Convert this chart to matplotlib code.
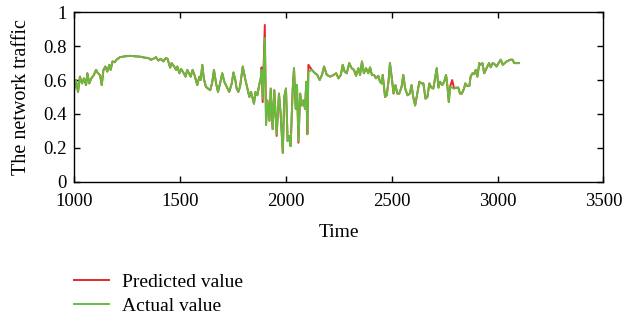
import matplotlib
matplotlib.use('Agg')
import matplotlib.pyplot as plt

# values
time = [1000, 1009, 1019, 1028, 1038, 1047, 1057, 1063, 1072, 1082, 1094, 1104, 1113, 1123,
        1131, 1139, 1148, 1157, 1167, 1173, 1182, 1192, 1201, 1217, 1241, 1265, 1288, 1312,
        1335, 1351, 1362, 1375, 1387, 1398, 1409, 1422, 1434, 1442, 1454, 1461, 1473, 1482,
        1488, 1498, 1506, 1516, 1527, 1535, 1545, 1551, 1560, 1569, 1582, 1592, 1598, 1606,
        1613, 1623, 1633, 1643, 1652, 1661, 1671, 1680, 1690, 1700, 1710, 1721, 1733, 1745,
        1753, 1762, 1768, 1776, 1784, 1797, 1808, 1819, 1828, 1836, 1844, 1850, 1857, 1866,
        1876, 1882, 1886, 1891, 1901, 1907, 1913, 1923, 1929, 1938, 1946, 1957, 1968, 1976,
        1986, 1993, 2001, 2009, 2017, 2023, 2033, 2039, 2047, 2053, 2060, 2068, 2076, 2083,
        2091, 2097, 2102, 2107, 2123, 2138, 2149, 2160, 2171, 2181, 2194, 2210, 2226, 2238,
        2249, 2260, 2269, 2278, 2288, 2300, 2311, 2322, 2332, 2343, 2351, 2360, 2369, 2379,
        2390, 2398, 2407, 2417, 2426, 2437, 2445, 2453, 2458, 2469, 2477, 2486, 2492, 2502,
        2509, 2518, 2527, 2536, 2547, 2555, 2564, 2575, 2586, 2594, 2602, 2611, 2621, 2631,
        2641, 2650, 2660, 2669, 2678, 2688, 2697, 2705, 2713, 2721, 2729, 2739, 2748, 2757,
        2763, 2770, 2776, 2786, 2795, 2804, 2815, 2823, 2832, 2842, 2848, 2857, 2867, 2873,
        2882, 2890, 2897, 2905, 2914, 2920, 2929, 2937, 2945, 2952, 2960, 2968, 2977, 2985,
        2996, 3005, 3015, 3025, 3034, 3044, 3052, 3060, 3071, 3079, 3092, 3100]

actual = [0.54, 0.60, 0.53, 0.62, 0.58, 0.61, 0.57, 0.64, 0.58, 0.61, 0.63, 0.66, 0.64, 0.63,
          0.57, 0.66, 0.68, 0.65, 0.69, 0.66, 0.71, 0.705, 0.72, 0.735, 0.74, 0.743, 0.74, 0.738,
          0.732, 0.73, 0.72, 0.725, 0.735, 0.715, 0.725, 0.71, 0.73, 0.725, 0.673, 0.70, 0.68, 0.66,
          0.68, 0.64, 0.665, 0.645, 0.62, 0.66, 0.635, 0.62, 0.66, 0.63, 0.57, 0.62, 0.60, 0.69,
          0.61, 0.56, 0.55, 0.54, 0.58, 0.66, 0.58, 0.53, 0.58, 0.64, 0.59, 0.56, 0.53, 0.58,
          0.645, 0.60, 0.55, 0.53, 0.56, 0.68, 0.61, 0.55, 0.50, 0.53, 0.49, 0.46, 0.53, 0.51,
          0.58, 0.61, 0.66, 0.49, 0.847, 0.335, 0.48, 0.36, 0.55, 0.31, 0.54, 0.28, 0.52, 0.40,
          0.17, 0.50, 0.55, 0.24, 0.27, 0.21, 0.55, 0.67, 0.43, 0.57, 0.24, 0.52, 0.45, 0.48,
          0.43, 0.59, 0.28, 0.65, 0.66, 0.64, 0.63, 0.60, 0.63, 0.68, 0.63, 0.62, 0.63, 0.64,
          0.61, 0.63, 0.69, 0.65, 0.64, 0.70, 0.67, 0.66, 0.625, 0.67, 0.63, 0.71, 0.64, 0.67,
          0.64, 0.675, 0.63, 0.63, 0.61, 0.625, 0.59, 0.58, 0.63, 0.50, 0.51, 0.60, 0.70, 0.60,
          0.52, 0.57, 0.52, 0.52, 0.56, 0.63, 0.55, 0.51, 0.52, 0.57, 0.50, 0.45, 0.52, 0.59,
          0.58, 0.58, 0.49, 0.50, 0.58, 0.555, 0.55, 0.61, 0.67, 0.555, 0.59, 0.57, 0.59, 0.63,
          0.57, 0.47, 0.56, 0.555, 0.55, 0.555, 0.555, 0.52, 0.52, 0.55, 0.58, 0.565, 0.565, 0.62,
          0.64, 0.635, 0.66, 0.62, 0.70, 0.69, 0.70, 0.64, 0.66, 0.68, 0.70, 0.675, 0.70, 0.695,
          0.68, 0.70, 0.72, 0.69, 0.70, 0.71, 0.715, 0.72, 0.72, 0.70, 0.70, 0.70]

# predicted follows the actual curve except where the red line shows through
predicted_diff = {1886: 0.675, 1891: 0.47, 1901: 0.925, 1957: 0.27, 2060: 0.23,
                  2107: 0.69, 2786: 0.60}
predicted = [predicted_diff.get(t, v) for t, v in zip(time, actual)]

plt.rcParams['font.family'] = ['Liberation Serif', 'DejaVu Serif']

fig = plt.figure(figsize=(6.25, 3.23), dpi=100, facecolor='white')
ax = fig.add_axes([0.1184, 0.4375, 0.847, 0.5245])

ax.plot(time, predicted, color='#e8262c', lw=1.4, label='Predicted value')
ax.plot(time, actual, color='#66bd3c', lw=1.4, label='Actual value')

ax.set_xlim(1000, 3500)
ax.set_ylim(0, 1)
ax.set_xticks([1000, 1500, 2000, 2500, 3000, 3500])
ax.set_yticks([0, 0.2, 0.4, 0.6, 0.8, 1])
ax.set_yticklabels(['0', '0.2', '0.4', '0.6', '0.8', '1'])
ax.tick_params(direction='in', length=4, width=1, labelsize=13.5, top=True, right=True)
ax.tick_params(axis='x', pad=8)
ax.tick_params(axis='y', pad=5)
for s in ax.spines.values():
    s.set_linewidth(1.0)

ax.set_xlabel('Time', fontsize=14, labelpad=10)
ax.set_ylabel('The network traffic', fontsize=14.5, labelpad=9)

fig.legend(loc='upper left', bbox_to_anchor=(0.118, 0.155), frameon=False, fontsize=14,
           handlelength=1.8, handletextpad=0.7, labelspacing=0.35, borderpad=0,
           borderaxespad=0)

plt.savefig('out.png', dpi=100, facecolor='white')
plt.close()
